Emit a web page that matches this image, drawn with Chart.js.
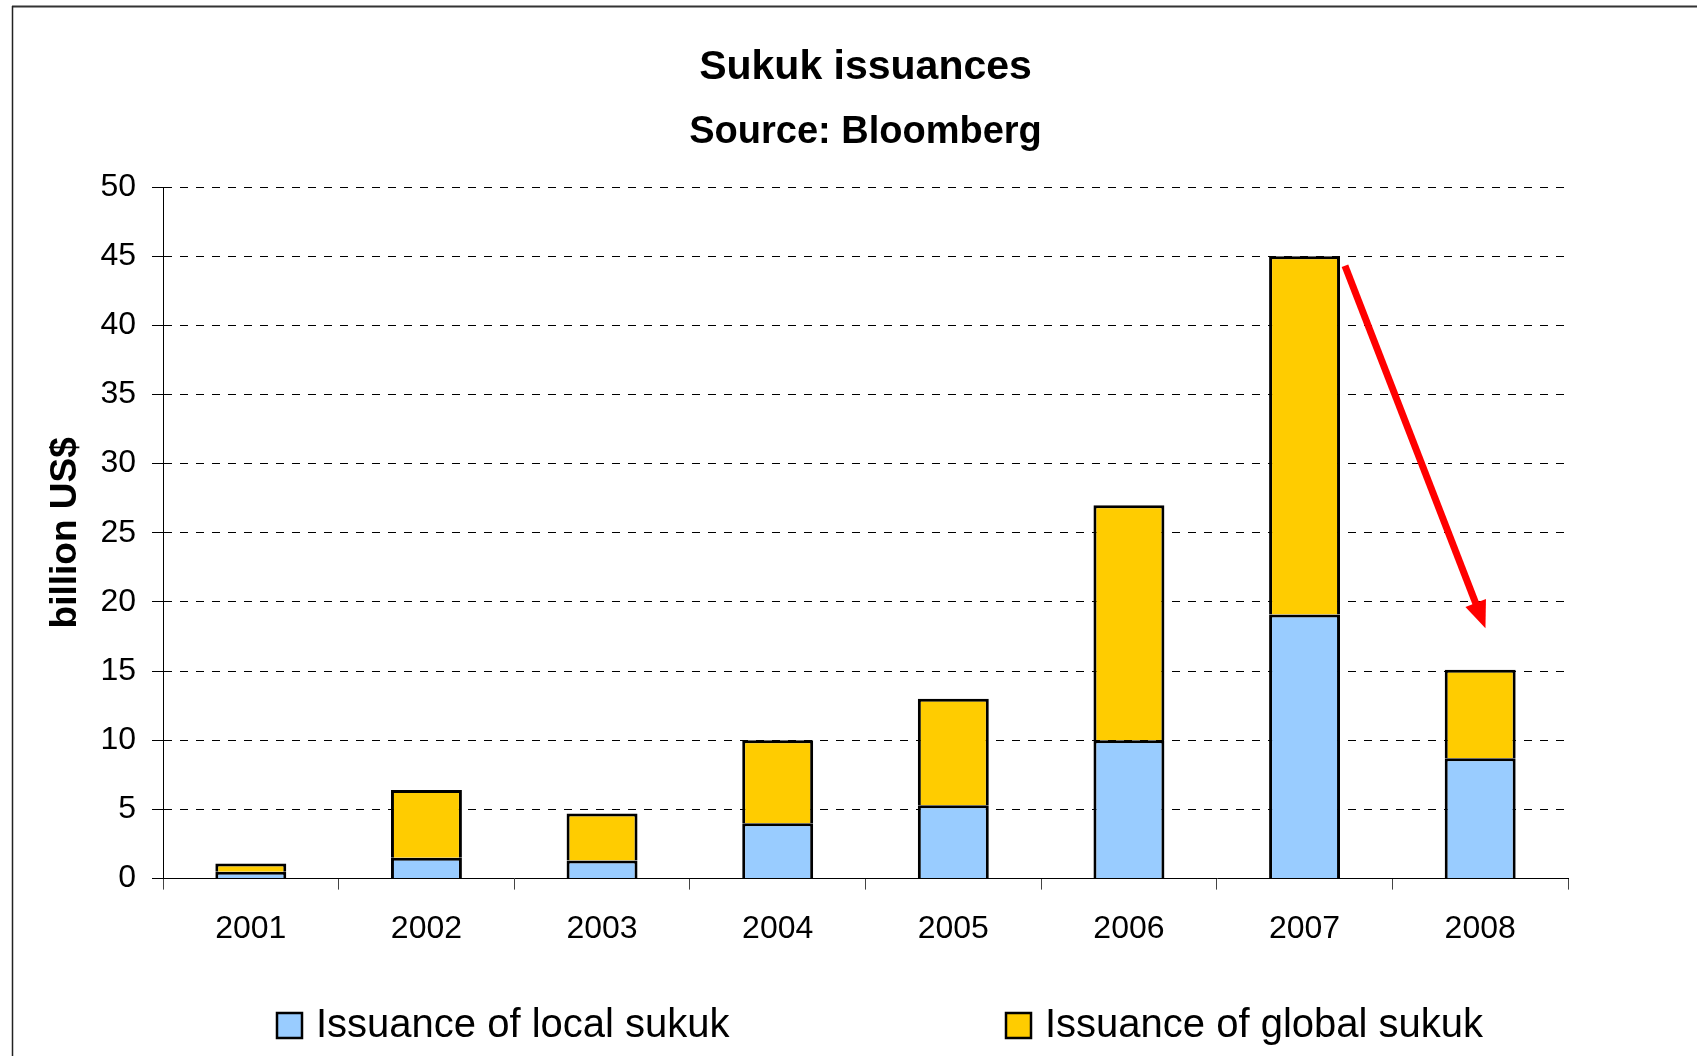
<!DOCTYPE html>
<html>
<head>
<meta charset="utf-8">
<script src="https://cdn.jsdelivr.net/npm/chart.js@4/dist/chart.umd.min.js"></script>
<style>
html,body{margin:0;padding:0;background:#fff;}
#wrap{width:1697px;height:1056px;position:relative;}
</style>
</head>
<body>
<div id="wrap"><canvas id="c"></canvas></div>
<script>
// ---- data ----
const years = ['2001', '2002', '2003', '2004', '2005', '2006', '2007', '2008'];
const localSukuk = [0.5, 1.5, 1.3, 4.0, 5.3, 10.0, 19.1, 8.7];
const globalSukuk = [0.6, 4.9, 3.4, 6.0, 7.7, 17.0, 25.9, 6.4];
const seriesNames = ['Issuance of local sukuk', 'Issuance of global sukuk'];
const yRange = [0, 50];
const yStep = 5;
const chartTitle = 'Sukuk issuances';
const chartSubtitle = 'Source: Bloomberg';
const yAxisTitle = 'billion US$';
// arrow annotation, in data space: [category index, value]
const arrowFrom = [6.23, 44.3];
const arrowTo = [7.03, 18.1];

const FONT = "'Liberation Sans', Arial, Helvetica, sans-serif";
const COLORS = ['#99CCFF', '#FFCC00'];

const framePlugin = {
  id: 'frame',
  beforeDraw(chart) {
    const ctx = chart.ctx;
    ctx.save();
    ctx.fillStyle = '#fff';
    ctx.fillRect(0, 0, chart.width, chart.height);
    ctx.strokeStyle = '#333';
    ctx.lineWidth = 2;
    ctx.beginPath();
    ctx.moveTo(12, 6.5);
    ctx.lineTo(chart.width, 6.5);
    ctx.stroke();
    ctx.lineWidth = 1.5;
    ctx.strokeStyle = '#222';
    ctx.beginPath();
    ctx.moveTo(12.5, 6);
    ctx.lineTo(12.5, chart.height);
    ctx.stroke();
    ctx.restore();
  }
};

const arrowPlugin = {
  id: 'arrow',
  afterDatasetsDraw(chart) {
    const xs = chart.scales.x, ys = chart.scales.y;
    const x1 = xs.getPixelForValue(arrowFrom[0]), y1 = ys.getPixelForValue(arrowFrom[1]);
    const x2 = xs.getPixelForValue(arrowTo[0]), y2 = ys.getPixelForValue(arrowTo[1]);
    const dx = x2 - x1, dy = y2 - y1, len = Math.hypot(dx, dy);
    const ux = dx / len, uy = dy / len;
    const headLen = 27, headHalf = 11;
    const bx = x2 - ux * headLen, by = y2 - uy * headLen;
    const ctx = chart.ctx;
    ctx.save();
    ctx.strokeStyle = '#FF0000';
    ctx.fillStyle = '#FF0000';
    ctx.lineWidth = 7;
    ctx.lineCap = 'butt';
    ctx.beginPath();
    ctx.moveTo(x1, y1);
    ctx.lineTo(bx + ux * 2, by + uy * 2);
    ctx.stroke();
    ctx.beginPath();
    ctx.moveTo(x2, y2);
    ctx.lineTo(bx - uy * headHalf, by + ux * headHalf);
    ctx.lineTo(bx + uy * headHalf, by - ux * headHalf);
    ctx.closePath();
    ctx.fill();
    ctx.restore();
  }
};

const legendPlugin = {
  id: 'customLegend',
  afterDraw(chart) {
    const ctx = chart.ctx;
    const left = chart.chartArea.left;
    const offsets = [114, 843];
    const yMid = 1025.5;
    const box = 25;
    ctx.save();
    ctx.font = '40px ' + FONT;
    ctx.textBaseline = 'middle';
    ctx.textAlign = 'left';
    chart.data.datasets.forEach((ds, i) => {
      const bx = left + offsets[i];
      ctx.fillStyle = ds.backgroundColor;
      ctx.fillRect(bx, yMid - box / 2, box, box);
      ctx.lineWidth = 2.5;
      ctx.strokeStyle = '#000';
      ctx.strokeRect(bx, yMid - box / 2, box, box);
      ctx.fillStyle = '#000';
      ctx.fillText(ds.label, bx + box + 14, yMid);
    });
    ctx.restore();
  }
};

new Chart(document.getElementById('c'), {
  type: 'bar',
  data: {
    labels: years,
    datasets: [
      {
        label: seriesNames[0],
        data: localSukuk,
        backgroundColor: COLORS[0],
        borderColor: '#000',
        borderWidth: 3,
        borderSkipped: 'start',
        categoryPercentage: 1,
        barPercentage: 0.404
      },
      {
        label: seriesNames[1],
        data: globalSukuk,
        backgroundColor: COLORS[1],
        borderColor: '#000',
        borderWidth: 3,
        borderSkipped: 'bottom',
        categoryPercentage: 1,
        barPercentage: 0.404
      }
    ]
  },
  options: {
    responsive: true,
    maintainAspectRatio: false,
    animation: false,
    events: [],
    layout: { padding: { left: 20, right: 129, top: 10, bottom: 88 } },
    plugins: {
      legend: { display: false },
      tooltip: { enabled: false },
      title: {
        display: true,
        text: chartTitle,
        fullSize: false,
        color: '#000',
        font: { family: FONT, size: 41, weight: 'bold', lineHeight: 1.2 },
        padding: { top: 33.4, bottom: 0 }
      },
      subtitle: {
        display: true,
        text: chartSubtitle,
        fullSize: false,
        color: '#000',
        font: { family: FONT, size: 38, weight: 'bold', lineHeight: 1.2 },
        padding: { top: 17.6, bottom: 31.2 }
      }
    },
    scales: {
      x: {
        stacked: true,
        offset: true,
        grid: {
          offset: true,
          drawOnChartArea: false,
          drawTicks: true,
          tickLength: 11,
          tickColor: '#444',
          tickWidth: 1
        },
        border: { display: true, color: '#000', width: 1 },
        ticks: {
          color: '#000',
          padding: 20,
          maxRotation: 0,
          font: { family: FONT, size: 32, lineHeight: 1.2 }
        }
      },
      y: {
        stacked: true,
        min: yRange[0],
        max: yRange[1],
        afterFit(scale) { scale.width = 143; },
        grid: {
          color: '#000',
          lineWidth: 1,
          drawTicks: true,
          tickLength: 11,
          tickColor: '#000',
          tickWidth: 1,
          tickBorderDash: []
        },
        border: { display: true, color: '#000', width: 1, dash: [8, 8] },
        ticks: {
          stepSize: yStep,
          color: '#000',
          padding: 16,
          font: { family: FONT, size: 32, lineHeight: 1.2 }
        },
        title: {
          display: true,
          text: yAxisTitle,
          color: '#000',
          font: { family: FONT, size: 37, weight: 'bold', lineHeight: 1.2 },
          padding: { top: 24, bottom: 0 }
        }
      }
    }
  },
  plugins: [framePlugin, arrowPlugin, legendPlugin]
});
</script>
</body>
</html>
